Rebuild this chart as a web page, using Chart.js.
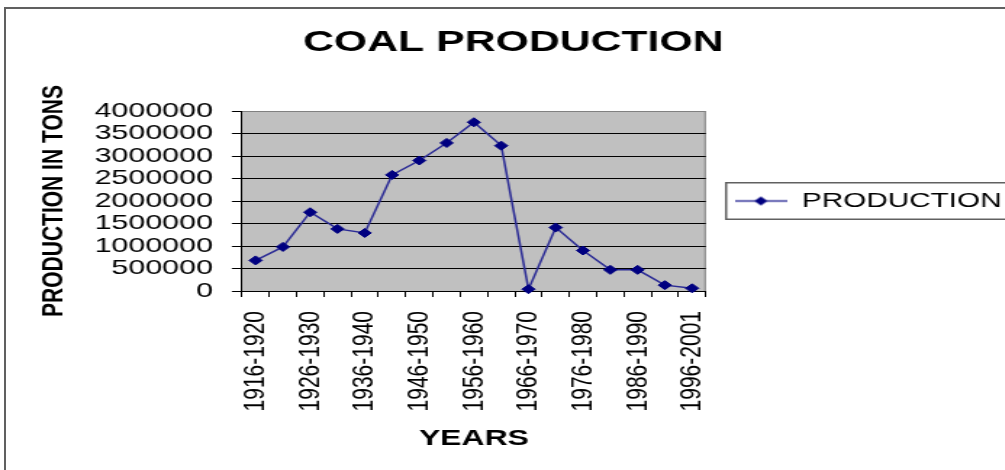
<!DOCTYPE html>
<html>
<head>
<meta charset="utf-8">
<script src="https://cdn.jsdelivr.net/npm/chart.js@4.4.1/dist/chart.umd.min.js"></script>
<style>
  html, body { margin: 0; padding: 0; background: #fff; overflow: hidden; width: 1005px; height: 470px; }
  #frame { position: absolute; left: 4px; top: 7px; width: 1100px; height: 600px; border: 2px solid #606060; }
  #c { position: absolute; left: 0; top: 0; transform: scaleX(1.45); transform-origin: 0 0; }
</style>
</head>
<body>
<div id="frame"></div>
<canvas id="c" width="693" height="470"></canvas>
<script>
const categories = ['1916-1920','1921-1925','1926-1930','1931-1935','1936-1940','1941-1945','1946-1950','1951-1955','1956-1960','1961-1965','1966-1970','1971-1975','1976-1980','1981-1985','1986-1990','1991-1995','1996-2001'];
const production = [680000, 980000, 1750000, 1380000, 1290000, 2580000, 2900000, 3290000, 3750000, 3230000, 40000, 1410000, 900000, 470000, 470000, 130000, 60000];
const seriesName = 'PRODUCTION';
const chartTitle = 'COAL PRODUCTION';
const yTitle = 'PRODUCTION IN TONS';
const xTitle = 'YEARS';

Chart.defaults.font.family = '"Liberation Sans", Arial, sans-serif';
Chart.defaults.color = '#000';

// legend symbol: line with a diamond
const sym = document.createElement('canvas');
sym.width = 36; sym.height = 11;
(function(){
  const g = sym.getContext('2d');
  g.strokeStyle = '#2b2b95'; g.lineWidth = 1.5;
  g.beginPath(); g.moveTo(0, 5.5); g.lineTo(36, 5.5); g.stroke();
  g.fillStyle = '#000080';
  g.beginPath(); g.moveTo(18, 1); g.lineTo(22.5, 5.5); g.lineTo(18, 10); g.lineTo(13.5, 5.5); g.closePath(); g.fill();
})();

const plotBg = {
  id: 'plotBg',
  beforeDraw(chart) {
    const {ctx, chartArea: a} = chart;
    ctx.save();
    ctx.fillStyle = '#C0C0C0';
    ctx.fillRect(a.left, a.top, a.right - a.left, a.bottom - a.top);
    ctx.strokeStyle = '#808080'; ctx.lineWidth = 1;
    ctx.beginPath();
    ctx.moveTo(a.left, a.top + 0.5); ctx.lineTo(a.right - 0.5, a.top + 0.5); ctx.lineTo(a.right - 0.5, a.bottom);
    ctx.stroke();
    ctx.restore();
  },
  afterDraw(chart) {
    const lg = chart.legend;
    if (!lg || !lg.legendHitBoxes || !lg.legendHitBoxes.length) return;
    const hb = lg.legendHitBoxes[0];
    const ctx = chart.ctx;
    ctx.save();
    ctx.strokeStyle = '#606060'; ctx.lineWidth = 1.5;
    ctx.strokeRect(hb.left - 6, hb.top - 8, hb.width + 10, hb.height + 16);
    ctx.restore();
  }
};

new Chart(document.getElementById('c'), {
  type: 'line',
  data: {
    labels: categories,
    datasets: [{
      label: seriesName,
      data: production,
      borderColor: '#2b2b95',
      borderWidth: 1.5,
      backgroundColor: '#000080',
      pointStyle: 'rectRot',
      pointRadius: 4.5,
      pointBackgroundColor: '#000080',
      pointBorderColor: '#000080',
      pointBorderWidth: 1,
      tension: 0,
      clip: false
    }]
  },
  options: {
    responsive: false,
    animation: false,
    devicePixelRatio: 1,
    layout: { padding: { left: 7.2, right: -7.8, top: 10, bottom: 0 } },
    plugins: {
      title: {
        display: true,
        text: chartTitle,
        font: { size: 29.5, weight: 'bold' },
        color: '#000',
        padding: { top: 15.6, bottom: 50 }
      },
      legend: {
        display: true,
        position: 'right',
        align: 'center',
        fullSize: false,
        maxWidth: 260,
        labels: {
          usePointStyle: true,
          pointStyle: sym,
          pointStyleWidth: 36,
          padding: 20,
          font: { size: 20.5 },
          color: '#000'
        }
      },
      tooltip: { enabled: false }
    },
    scales: {
      x: {
        type: 'category',
        offset: true,
        grid: { offset: true, drawOnChartArea: false, drawTicks: true, tickLength: 6, tickColor: '#000' },
        border: { color: '#000', width: 1 },
        ticks: {
          autoSkip: false,
          maxRotation: 90,
          minRotation: 90,
          padding: 14,
          font: { size: 21 },
          color: '#000',
          callback: function(v, i) { return i % 2 === 0 ? categories[i] : ''; }
        },
        title: { display: true, text: xTitle, font: { size: 22, weight: 'bold' }, color: '#000', padding: { top: 0, bottom: 18.3 } },
        afterFit(scale) { scale.height = 179; }
      },
      y: {
        min: 0,
        max: 4000000,
        grid: {
          color: (c) => (c.tick && c.tick.value === 4000000) ? '#808080' : '#000',
          tickColor: '#000',
          tickLength: 7,
          lineWidth: 1
        },
        border: { color: '#000', width: 1 },
        ticks: {
          stepSize: 500000,
          autoSkip: false,
          padding: 13,
          font: { size: 21 },
          color: '#000',
          callback: (v) => String(v)
        },
        title: { display: true, text: yTitle, font: { size: 21, weight: 'bold' }, color: '#000', padding: { top: 17.4, bottom: 0 } },
        afterFit(scale) { scale.width = 159.7; }
      }
    }
  },
  plugins: [plotBg]
});
</script>
</body>
</html>
